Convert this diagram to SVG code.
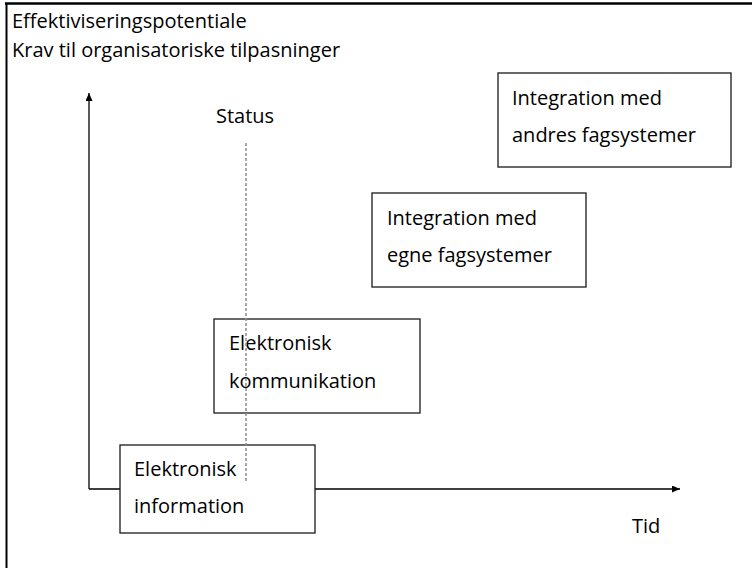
<svg xmlns="http://www.w3.org/2000/svg" width="752" height="568" viewBox="0 0 752 568">
<style>
  text { font-family: "Open Sans", "Liberation Sans", sans-serif; font-size: 20px; fill: #000; }
  .box { fill: #fff; stroke: #1a1a1a; stroke-width: 1.3; }
  .axis { stroke: #000; stroke-width: 1.3; fill: none; }
  .status { stroke: #8c8c8c; stroke-width: 1.5; stroke-dasharray: 3 2; fill: none; }
  .frame { stroke: #000; fill: none; }
</style>
<defs>
  <marker id="arrow" viewBox="0 0 10 10" refX="10" refY="5" markerWidth="8" markerHeight="7" markerUnits="userSpaceOnUse" orient="auto" preserveAspectRatio="none">
    <path d="M0,0 L10,5 L0,10 Z" fill="#000"/>
  </marker>
</defs>
<rect width="752" height="568" fill="#fff"/>
<g id="frame">
  <line class="frame" x1="5" y1="3.5" x2="752" y2="3.5" stroke-width="2.5"/>
  <line class="frame" x1="6.5" y1="3" x2="6.5" y2="568" stroke-width="2"/>
</g>
<g id="axis-labels">
  <text x="12" y="28">Effektiviseringspotentiale</text>
  <text x="12" y="57">Krav til organisatoriske tilpasninger</text>
  <text x="632" y="533">Tid</text>
</g>
<g id="connectors">
  <path class="axis" d="M89,489 L89,93" marker-end="url(#arrow)"/>
  <path class="axis" d="M89,489 L680,489" marker-end="url(#arrow)"/>
</g>
<g id="node-info">
  <rect class="box" x="120" y="445" width="195" height="88"/>
  <text x="134" y="476">Elektronisk</text>
  <text x="134" y="513">information</text>
</g>
<g id="node-komm">
  <rect class="box" x="214" y="319" width="206" height="94"/>
  <text x="229" y="350">Elektronisk</text>
  <text x="229" y="388">kommunikation</text>
</g>
<g id="node-egne">
  <rect class="box" x="372" y="193" width="214" height="94"/>
  <text x="387" y="225">Integration med</text>
  <text x="387" y="262">egne fagsystemer</text>
</g>
<g id="node-andres">
  <rect class="box" x="498" y="73" width="233" height="94"/>
  <text x="512" y="105">Integration med</text>
  <text x="512" y="142">andres fagsystemer</text>
</g>
<g id="status">
  <text x="216" y="123">Status</text>
  <line class="status" x1="246" y1="143" x2="246" y2="483"/>
</g>
</svg>
